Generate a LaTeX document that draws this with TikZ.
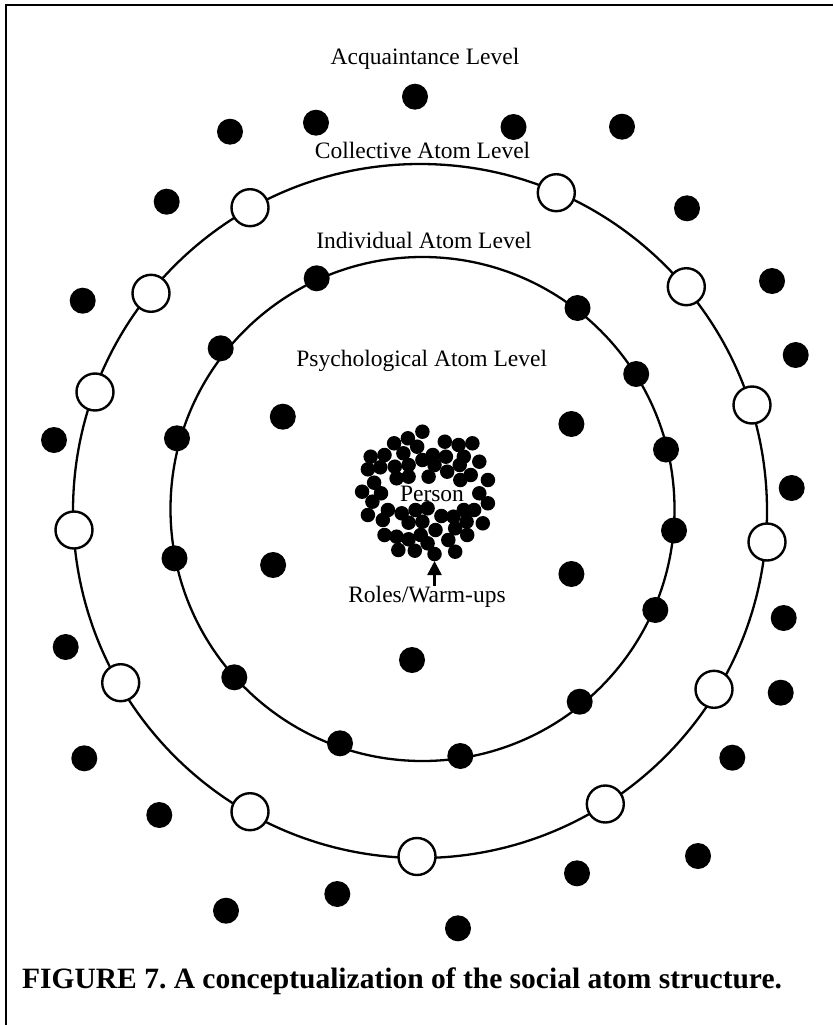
\documentclass[tikz,border=0pt]{standalone}
\usepackage{fontspec}
\setmainfont{Liberation Serif}
\usetikzlibrary{arrows.meta}

\tikzset{
  atom/.style={circle, fill=black, inner sep=0pt, minimum size=26pt},
  openatom/.style={circle, draw=black, fill=white, line width=2.4pt, inner sep=0pt, minimum size=37pt},
  cell/.style={circle, fill=black, inner sep=0pt, minimum size=14.5pt},
  lvl/.style={anchor=base, inner sep=0pt, font=\fontsize{23.5}{28}\selectfont},
}

\begin{document}
\frenchspacing
\begin{tikzpicture}[x=1pt, y=-1pt, >={Triangle[width=14pt,length=14pt]}]

    \useasboundingbox (0,0) rectangle (833,1025);

    % frame: top and left edges
    \draw[line width=2.5pt] (6,1025) -- (6,5) -- (833,5);

    % the two rings
    \coordinate (Oc) at (420,511);
    \coordinate (Oi) at (422.5,509);
    \draw[line width=2.3pt] (Oc) circle[radius=347pt];
    \draw[line width=2.3pt] (Oi) circle[radius=252pt];

    % acquaintance level
    \foreach \x/\y [count=\i] in {415/96.7, 316/122.7, 230/131.7, 513.5/127, 622/126.7,
        166.7/201.7, 687/208.3, 82.7/300.7, 772/281, 795.7/355, 54/440, 791.7/488,
        65.7/647, 783.7/618, 780.7/692.7, 84.3/758.3, 732.3/757.7, 159.3/815,
        698/856, 577/873.3, 337.3/894, 226/910.7, 458/928.3} {
        \node[atom] (acq\i) at (\x,\y) {};
    }

    % collective atom level (on the outer ring)
    \foreach \x/\y [count=\i] in {250/207.7, 151/293.3, 556.3/192.7, 686.3/286.7,
        95/392, 752/405, 74/530, 767/542, 120.7/682.7, 714/689.3, 250/811.7,
        605.3/804, 417/856.5} {
        \node[openatom] (col\i) at (\x,\y) {};
    }

    % individual atom level (on the inner ring)
    \foreach \x/\y [count=\i] in {316.7/278.3, 577.5/308, 220.7/348.3, 636.2/374,
        177/438.3, 666/449.5, 174.5/558.3, 674/530.5, 655.3/610, 234.3/677.3,
        579.7/701.7, 340/743.3, 460.3/756} {
        \node[atom] (ind\i) at (\x,\y) {};
    }

    % psychological atom level
    \foreach \x/\y [count=\i] in {282.8/416.7, 571.4/424, 273.1/565, 571.4/574, 412/660} {
        \node[atom] (psy\i) at (\x,\y) {};
    }

    % roles / warm-ups round the person
    \foreach \x/\y [count=\i] in {422.4/431.7, 407.9/438.3, 394.1/443.3, 444.8/441.7,
        458.6/445, 472.4/443.3, 417.2/446.7, 403.4/453.3, 384.5/455, 370.7/456.7,
        432.8/455, 445.9/456.7, 463.8/456.7, 479.3/461.7, 422.4/460, 408.6/465,
        394.8/466.7, 380.3/467.3, 367.9/469.3, 434.5/465, 459.7/465, 447.2/471.7,
        428.6/476.7, 408.6/476.7, 396.6/478.3, 470.7/475, 460.3/480, 487.9/480,
        374.1/482.7, 362.1/491.7, 381/493.3, 479.3/493.3, 372.4/501.7, 487.9/503.3,
        367.9/515, 387.9/510, 401.7/513.3, 415.5/510, 427.6/508.3, 441.4/516,
        453.4/516.7, 463.8/510, 474.1/510, 382.8/520, 408.6/522.7, 422.4/521.7,
        466.6/521.7, 482.8/523.3, 455.2/528.3, 435.5/530, 384.5/535, 396.6/536.7,
        408.6/539.3, 420.7/535, 448.3/540, 467.2/535, 427.6/543.3, 398.3/550,
        414.8/550.7, 434.5/554, 455.2/551.7} {
        \node[cell] (role\i) at (\x,\y) {};
    }

    % level labels
    \node[lvl] (acqlbl) at (425,65) {Acquaintance Level};
    \node[lvl] (collbl) at (422.5,158.5) {Collective Atom Level};
    \node[lvl] (indlbl) at (424,248.5) {Individual Atom Level};
    \node[lvl] (psylbl) at (421.7,366) {Psychological Atom Level};
    \node[lvl] (person) at (432,501.5) {Person};
    \node[lvl] (roles) at (427,602) {Roles/Warm-ups};

    % arrow to the roles
    \coordinate (tip) at (434.5,561);
    \draw[->, line width=2.5pt] (roles.north -| tip) -- (tip);

    % caption
    \node[anchor=base west, inner sep=0pt, font=\bfseries\fontsize{29.5}{34}\selectfont]
        (caption) at (22,988) {FIGURE 7. A conceptualization of the social atom structure.};

\end{tikzpicture}
\end{document}
